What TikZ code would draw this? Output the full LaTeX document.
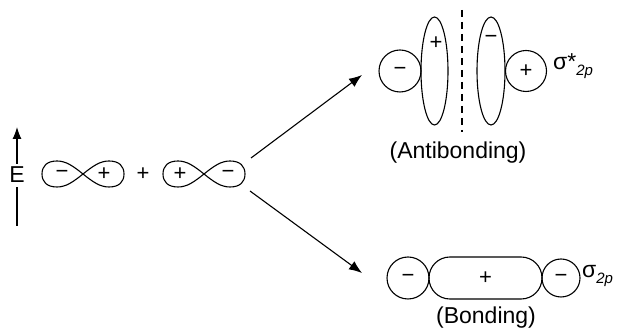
\documentclass[tikz,border=0pt]{standalone}
\usepackage{fontspec}
\setmainfont{Liberation Sans}
\usetikzlibrary{arrows.meta,shapes.geometric}
\tikzset{
  ln/.style={line width=1.1pt},
  sgn/.style={font=\fontsize{22}{24}\selectfont, inner sep=0pt},
  lbl/.style={font=\fontsize{23}{25}\selectfont, inner sep=0pt},
  arr/.style={ln,-{Latex[length=13pt,width=10pt]}},
  porb/.pic={
    \draw[ln] (0,0) .. controls (-10,8) and (-17,13) .. (-26,13)
      .. controls (-36,13) and (-41,8) .. (-41,0)
      .. controls (-41,-8) and (-36,-13) .. (-26,-13)
      .. controls (-17,-13) and (-10,-8) .. (0,0)
      .. controls (10,8) and (17,13) .. (26,13)
      .. controls (36,13) and (41,8) .. (41,0)
      .. controls (41,-8) and (36,-13) .. (26,-13)
      .. controls (17,-13) and (10,-8) .. (0,0);
  }
}
\begin{document}
\begin{tikzpicture}[x=1pt,y=1pt]
\useasboundingbox (0,0) rectangle (619,334);
% energy axis
\node[lbl] (E) at (17,159) {E};
\coordinate (Etop) at (17,207);
\coordinate (Ebot) at (17,108);
\draw[ln,-{Latex[length=12pt,width=9pt]}] (E.north) ++(0,3) -- (Etop);
\draw[ln] (E.south) ++(0,-4) -- (Ebot);
% p orbitals
\pic at (83,160) {porb};
\node[sgn] (m1) at (62,160) {−};
\node[sgn] (p1) at (104,160) {+};
\node[sgn] (plus) at (143,160) {+};
\pic at (204,160) {porb};
\node[sgn] (p2) at (180,160) {+};
\node[sgn] (m2) at (228,160) {−};
\coordinate (s1) at (251,176);
\coordinate (s2) at (250,143);
% antibonding
\node[circle,draw,ln,minimum size=42pt,inner sep=0pt] (ac1) at (400,263) {};
\node[sgn] at (ac1) {−};
\node[ellipse,draw,ln,minimum width=27pt,minimum height=108pt,inner sep=0pt] (ae1) at (434.5,263) {};
\node[sgn] (ae1s) at (436,291) {+};
\draw[ln,dash pattern=on 7pt off 5pt] (462,324) -- (462,202);
\node[ellipse,draw,ln,minimum width=28pt,minimum height=108pt,inner sep=0pt] (ae2) at (491,263) {};
\node[sgn] (ae2s) at (491,295) {−};
\node[circle,draw,ln,minimum size=41pt,inner sep=0pt] (ac2) at (526,263) {};
\node[sgn] at (ac2) {+};
\node[lbl,anchor=west] (sstar) at (553,268) {σ*\raisebox{-0.45ex}{\fontsize{15}{15}\selectfont\itshape 2p}};
\node[lbl] (anti) at (458,181) {(Antibonding)};
% bonding
\node[circle,draw,ln,minimum size=42pt,inner sep=0pt] (bc1) at (408,56) {};
\node[sgn] at (bc1) {−};
\node[rectangle,rounded corners=20.9pt,draw,ln,minimum width=113pt,minimum height=42pt,inner sep=0pt] (pill) at (485.5,56) {};
\node[sgn] at (pill) {+};
\node[circle,draw,ln,minimum size=38pt,inner sep=0pt] (bc2) at (561,56) {};
\node[sgn] at (bc2) {−};
\node[lbl,anchor=west] (sig) at (582,58) {σ\raisebox{-0.45ex}{\fontsize{15}{15}\selectfont\itshape 2p}};
\node[lbl] (bond) at (486,16) {(Bonding)};
% arrows
\coordinate (t1) at (362,259);
\coordinate (t2) at (362,61);
\draw[arr] (s1) -- (t1);
\draw[arr] (s2) -- (t2);
\end{tikzpicture}
\end{document}
